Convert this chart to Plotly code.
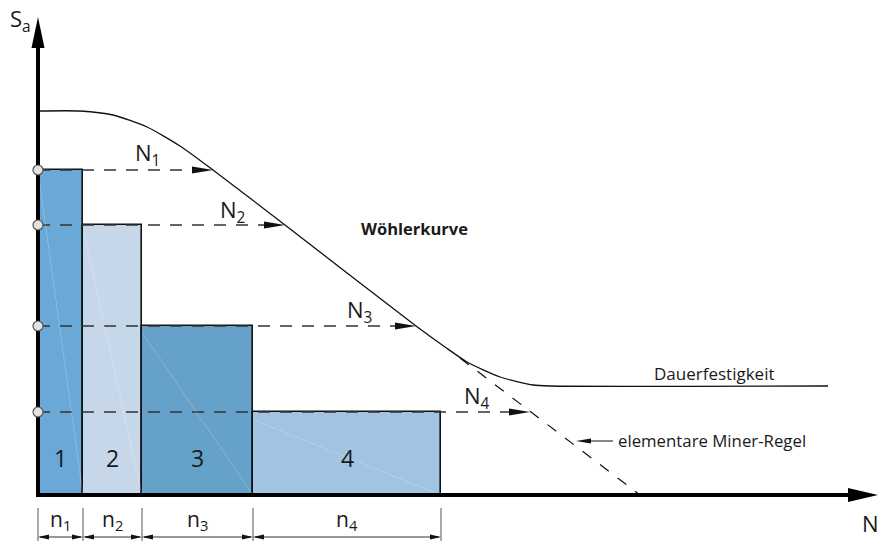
import numpy as np
import plotly.graph_objects as go

# ---- data (schematic units: N to the right, S_a upwards, origin at axes crossing) ----
block_labels = ["1", "2", "3", "4"]
n_counts = [45, 59, 111, 188]          # widths of the load blocks (n_i)
S_levels = [325, 270, 169, 83]         # amplitude of each block (S_a)
N_life = [175, 247, 378, 492]          # cycles to failure at each amplitude (N_i)
n_labels = ["n<sub>1</sub>", "n<sub>2</sub>", "n<sub>3</sub>", "n<sub>4</sub>"]
N_labels = ["N<sub>1</sub>", "N<sub>2</sub>", "N<sub>3</sub>", "N<sub>4</sub>"]

woehler_N = [0, 42, 75, 109, 142, 175, 247, 378, 407, 429, 462, 495, 512, 790]
woehler_S = [384, 384, 380, 368, 349, 325, 270, 169, 148, 133, 118, 110, 109, 109]

miner_N = [422, 602]
miner_S = [137, 0]

bar_colors = ["#6aa8d7", "#c6d7ea", "#66a1c9", "#a0c4e1"]
FONT = "Open Sans"
TXT = "#1a1a1a"

fig = go.Figure()

# ---- load blocks ----
edges = np.concatenate([[0], np.cumsum(n_counts)])
centers = (edges[:-1] + edges[1:]) / 2
fig.add_trace(go.Bar(
    x=centers, y=S_levels, width=n_counts,
    marker=dict(color=bar_colors, line=dict(color="#111111", width=1.6)),
    textposition="none", hoverinfo="skip", showlegend=False,
))
# faint diagonal lines inside blocks
for i in range(4):
    fig.add_shape(type="line", x0=edges[i] + 1, y0=S_levels[i] - 8, x1=edges[i + 1], y1=0,
                  line=dict(color="rgba(255,255,255,0.22)", width=1))
# block numbers
for i in range(4):
    fig.add_annotation(x=centers[i], y=37, text=block_labels[i], showarrow=False,
                       font=dict(family=FONT, size=23, color=TXT))

# ---- Wöhler curve ----
fig.add_trace(go.Scatter(x=woehler_N, y=woehler_S, mode="lines",
                         line=dict(color="#111111", width=1.3, shape="spline", smoothing=0.6),
                         hoverinfo="skip", showlegend=False))
# elementary Miner rule (dashed extension)
fig.add_trace(go.Scatter(x=miner_N, y=miner_S, mode="lines",
                         line=dict(color="#111111", width=1.2, dash="11px,11px"),
                         hoverinfo="skip", showlegend=False))

# ---- dashed lines S_i -> N_i with arrow heads ----
for i in range(4):
    fig.add_trace(go.Scatter(x=[0, N_life[i] - 16], y=[S_levels[i], S_levels[i]], mode="lines",
                             line=dict(color="#333333", width=1.3, dash="12px,10px"),
                             hoverinfo="skip", showlegend=False))
    fig.add_shape(type="path",
                  path=f"M {N_life[i]-21} {S_levels[i]-3.5} L {N_life[i]} {S_levels[i]} "
                       f"L {N_life[i]-21} {S_levels[i]+3.5} Z",
                  fillcolor="#111111", line=dict(width=0))
    fig.add_annotation(x=[109, 194, 321, 439][i], y=[341, 284, 184, 98][i], text=N_labels[i],
                       showarrow=False, font=dict(family=FONT, size=22, color=TXT))

# ---- axes ----
fig.add_shape(type="line", x0=0, y0=0, x1=0, y1=452, line=dict(color="#000000", width=4))
fig.add_shape(type="line", x0=-2, y0=0, x1=815, y1=0, line=dict(color="#000000", width=4))
fig.add_shape(type="path", path="M -6.5 447 L 0 478 L 6.5 447 Z", fillcolor="#000000", line=dict(width=0))
fig.add_shape(type="path", path="M 810 7 L 840 0 L 810 -7 Z", fillcolor="#000000", line=dict(width=0))
fig.add_annotation(x=-18, y=475, text="S<sub>a</sub>", showarrow=False,
                   font=dict(family=FONT, size=22, color=TXT))
fig.add_annotation(x=832, y=-28, text="N", showarrow=False,
                   font=dict(family=FONT, size=22, color=TXT))

# markers on S axis (drawn on top of the axis)
for s in S_levels:
    fig.add_shape(type="circle", x0=-5, x1=5, y0=s - 5, y1=s + 5,
                  fillcolor="#e2e2e2", line=dict(color="#555555", width=1.2))

# ---- dimension lines n_i ----
for e in edges:
    fig.add_shape(type="line", x0=e, y0=-13, x1=e, y1=-46, line=dict(color="#555555", width=1))
for i in range(4):
    a, b = edges[i], edges[i + 1]
    y = -42
    fig.add_shape(type="line", x0=a + 2, y0=y, x1=b - 2, y1=y, line=dict(color="#333333", width=1))
    fig.add_shape(type="path", path=f"M {a} {y} L {a+11} {y+2.5} L {a+11} {y-2.5} Z",
                  fillcolor="#111111", line=dict(width=0))
    fig.add_shape(type="path", path=f"M {b} {y} L {b-11} {y+2.5} L {b-11} {y-2.5} Z",
                  fillcolor="#111111", line=dict(width=0))
    fig.add_annotation(x=(a + b) / 2, y=-25, text=n_labels[i], showarrow=False,
                       font=dict(family=FONT, size=21, color=TXT))

# ---- text labels ----
fig.add_annotation(x=376, y=267, text="<b>Wöhlerkurve</b>", showarrow=False,
                   font=dict(family=FONT, size=16.5, color=TXT))
fig.add_annotation(x=676, y=122, text="Dauerfestigkeit", showarrow=False,
                   font=dict(family=FONT, size=17, color=TXT))
fig.add_annotation(x=578, y=55, text="elementare Miner-Regel", showarrow=False, xanchor="left",
                   font=dict(family=FONT, size=16.8, color=TXT))
fig.add_shape(type="line", x0=552, y0=54, x1=575, y1=54, line=dict(color="#111111", width=1))
fig.add_shape(type="path", path="M 538 54 L 553 56.5 L 553 51.5 Z", fillcolor="#111111", line=dict(width=0))

fig.update_layout(
    width=878, height=541,
    margin=dict(l=0, r=0, t=0, b=0),
    paper_bgcolor="white", plot_bgcolor="white",
    barmode="overlay", bargap=0,
    xaxis=dict(range=[-38, 840], visible=False, fixedrange=True),
    yaxis=dict(range=[-46, 495], visible=False, fixedrange=True),
    showlegend=False,
)

fig.write_html("out.html",
               post_script="document.body.style.margin='0px';document.body.style.overflow='hidden';",
               config={"displayModeBar": False})
